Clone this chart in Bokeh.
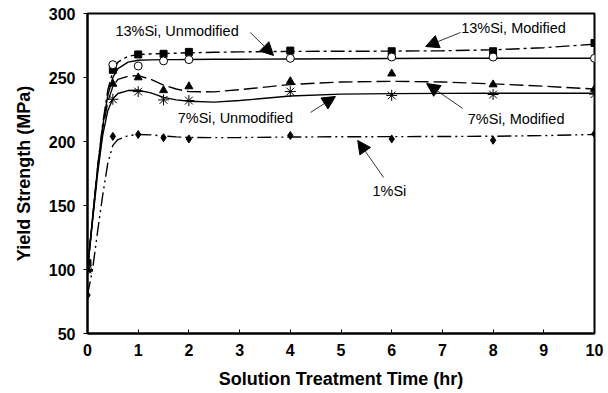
from bokeh.plotting import figure
from bokeh.models import Label, Arrow, NormalHead, Range1d, FixedTicker
from bokeh.embed import file_html
from bokeh.resources import INLINE

# ---- measured points ----
t = [0, 0.5, 1, 1.5, 2, 4, 6, 8, 10]
si13_mod = [105, 256, 268, 268.5, 270, 271, 270.5, 270.5, 277]
si13_unmod = [100, 260, 259, 263, 264, 265, 266, 266, 265]
si7_mod = [100, 245, 250, 240, 243, 247, 253, 244.5, 241]
si7_unmod = [100, 233, 239, 232.5, 232, 239, 236, 236.7, 237]
si1 = [80, 204, 205.5, 203, 202, 204.7, 202, 201, 206]

# ---- fitted curves ----
cx = [0, 0.1, 0.2, 0.3, 0.4, 0.5, 0.6, 0.8, 1, 1.25, 1.5, 1.75, 2, 2.5, 3, 4, 5, 6, 7, 8, 9, 10]
c13_mod = [100, 140, 180, 214, 240, 255, 262, 266.5, 268, 268.4, 268.7, 269, 269.3, 269.7, 270, 270.4, 270.5, 270.6, 270.9, 271.6, 273.3, 276]
c13_unmod = [100, 140, 180, 212, 236, 250, 257, 262, 263.5, 263.8, 264, 264, 264.1, 264.2, 264.3, 264.5, 264.7, 264.9, 265, 265, 265, 265]
c7_mod = [100, 140, 178, 210, 231, 243, 248.5, 251, 251.5, 248.5, 244, 241, 239, 238.8, 240.5, 244.5, 246.5, 247, 246.5, 245, 243.2, 241]
c7_unmod = [100, 138, 175, 205, 224, 233.5, 237.5, 239.8, 240, 238, 234.5, 232.5, 231.5, 230.8, 232, 235.5, 237, 237.4, 237.6, 237.7, 237.7, 237.7]
c1 = [80, 100, 130, 158, 183, 197, 201.5, 204.5, 205.5, 205.2, 204.3, 203.6, 203.2, 203, 203.1, 203.5, 203.7, 203.8, 203.9, 204.1, 204.6, 205.5]

x_ticks = [0, 1, 2, 3, 4, 5, 6, 7, 8, 9, 10]
y_ticks = [50, 100, 150, 200, 250, 300]

labels = ["13%Si, Unmodified", "13%Si, Modified", "7%Si, Unmodified", "7%Si, Modified", "1%Si"]
label_pos = [(0.55, 286.7), (7.37, 288.3), (1.78, 218.0), (7.50, 217.7), (5.62, 161.7)]
arrows = [((3.21, 285.2), (3.67, 267.2)),
          ((7.36, 285.2), (6.67, 274.2)),
          ((4.40, 222.7), (4.89, 235.2)),
          ((7.40, 225.8), (6.69, 245.3)),
          ((5.84, 171.9), (5.33, 200.8))]

FONT = "Liberation Sans"

p = figure(width=608, height=393, output_backend="svg", toolbar_location=None,
           x_range=Range1d(0, 10), y_range=Range1d(50, 300),
           min_border_left=87, min_border_right=14, min_border_top=13, min_border_bottom=60)
p.xgrid.visible = False
p.ygrid.visible = False
p.outline_line_color = "black"
p.outline_line_width = 2
p.background_fill_color = "white"
p.border_fill_color = "white"

for ax in (p.xaxis[0], p.yaxis[0]):
    ax.axis_line_width = 2
    ax.axis_line_color = "black"
    ax.major_tick_line_color = "black"
    ax.major_tick_line_width = 1
    ax.minor_tick_line_color = None
    ax.major_label_text_font = FONT
    ax.major_label_text_font_style = "bold"
    ax.major_label_text_font_size = "16px"
    ax.major_label_text_color = "black"
    ax.axis_label_text_font = FONT
    ax.axis_label_text_font_style = "bold"
    ax.axis_label_text_font_size = "18px"
    ax.axis_label_text_color = "black"

p.xaxis.ticker = FixedTicker(ticks=x_ticks)
p.yaxis.ticker = FixedTicker(ticks=y_ticks)
p.xaxis.major_tick_in = 4
p.xaxis.major_tick_out = 0
p.yaxis.major_tick_in = 0
p.yaxis.major_tick_out = 4
p.xaxis.major_label_standoff = 10
p.yaxis.major_label_standoff = 8
p.xaxis.axis_label = "Solution Treatment Time (hr)"
p.yaxis.axis_label = "Yield Strength (MPa)"
p.xaxis.axis_label_standoff = 10
p.yaxis.axis_label_standoff = 12

# curves
p.line(cx, c13_mod, line_color="black", line_width=1.4, line_dash="14 4 3 4")
p.line(cx, c13_unmod, line_color="black", line_width=1.4)
p.line(cx, c7_mod, line_color="black", line_width=1.4, line_dash="14 5")
p.line(cx, c7_unmod, line_color="black", line_width=1.4)
p.line(cx, c1, line_color="black", line_width=1.4, line_dash="14 4 2 4 2 4")

# markers
p.scatter(t, si13_mod, marker="square", size=7, fill_color="black", line_color="black")
p.scatter(t, si13_unmod, marker="circle", size=8, fill_color="white", line_color="black", line_width=1)
p.scatter(t, si7_mod, marker="triangle", size=8, fill_color="black", line_color="black")
p.scatter(t, si7_unmod, marker="asterisk", size=11, line_color="black", line_width=1)
p.scatter(t, si1, marker="diamond", size=8, fill_color="black", line_color="black")

for txt, (lx, ly) in zip(labels, label_pos):
    p.add_layout(Label(x=lx, y=ly, text=txt, text_font=FONT, text_font_size="14.5px",
                       text_baseline="middle", text_align="left", text_color="black"))

for (s, e) in arrows:
    p.add_layout(Arrow(x_start=s[0], y_start=s[1], x_end=e[0], y_end=e[1],
                       line_color="black", line_width=0.8,
                       end=NormalHead(size=13, fill_color="black", line_color="black", line_width=1)))

open("out.html", "w").write(file_html(p, INLINE))
